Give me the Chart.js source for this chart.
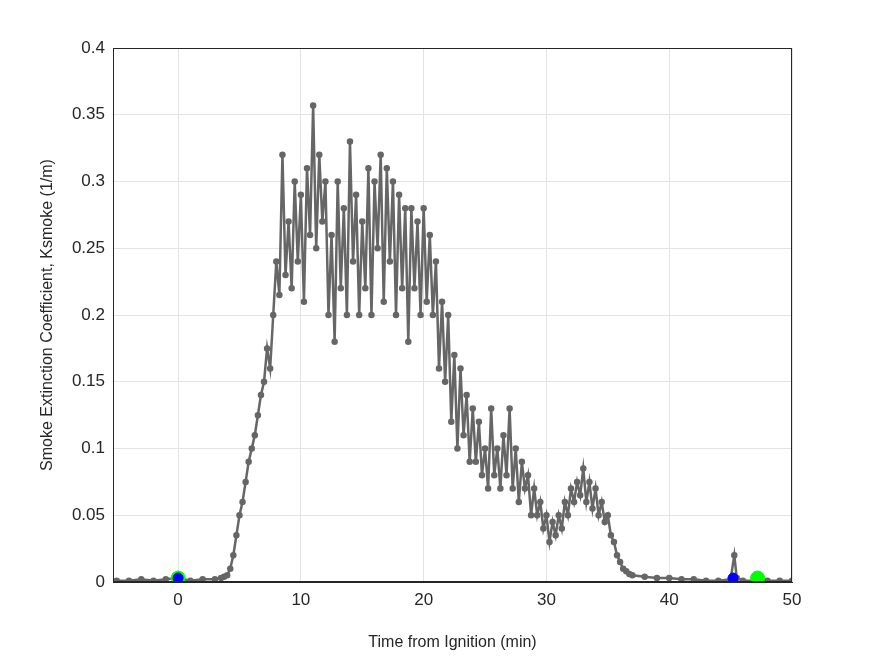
<!DOCTYPE html>
<html><head><meta charset="utf-8">
<script src="https://cdn.jsdelivr.net/npm/chart.js@4"></script>
<style>html,body{margin:0;background:#fff}#w{width:875px;height:656px}</style>
</head><body><div id="w"><canvas id="c"></canvas></div>
<script>
const preTimes=[-5,-4,-3,-2,-1,0,1,2,3,3.5,3.75];
const preVals=[0.001,0.001,0.002,0.001,0.002,0.003,0.001,0.002,0.002,0.003,0.004];
const mainStart=4, mainStep=0.25;
const mainVals=[.005,.01,.02,.035,.05,.06,.075,.09,.1,.11,.125,.14,.15,.175,.16,.2,.24,.215,.32,.23,.27,.22,.3,.24,.29,.21,.31,.26,.357,.25,.32,.27,.3,.2,.26,.18,.3,.22,.28,.2,.33,.24,.29,.2,.27,.22,.31,.2,.3,.25,.32,.21,.31,.24,.3,.2,.29,.22,.28,.18,.28,.22,.27,.2,.28,.21,.26,.2,.24,.16,.21,.15,.2,.12,.17,.1,.16,.11,.14,.09,.13,.09,.12,.08,.1,.07,.13,.08,.1,.07,.11,.08,.13,.07,.1,.06,.09,.07,.08,.05,.07,.05,.06,.04,.05,.03,.045,.035,.05,.04,.06,.05,.07,.06,.075,.065,.085,.06,.075,.055,.07,.05,.06,.045,.05,.035,.03,.02,.015,.01,.008,.006,.005];
const postTimes=[38,39,40,41,42,43,44,45,45.3,45.5,46,47,48,49,50];
const postVals=[.004,.003,.003,.002,.002,.001,.001,.002,.02,.003,.001,.001,.001,.001,.001];
const greenPts=[[0,0.003],[47.2,0.003]];
const bluePts=[[0,0.003],[45.2,0.003]];
const xTicks=[0,10,20,30,40,50];
const yTicks=[0,0.05,0.1,0.15,0.2,0.25,0.3,0.35,0.4];

const pts=[];
preTimes.forEach((t,i)=>pts.push({x:t,y:preVals[i]}));
mainVals.forEach((v,i)=>pts.push({x:mainStart+i*mainStep,y:v}));
postTimes.forEach((t,i)=>pts.push({x:t,y:postVals[i]}));
const toP=a=>a.map(p=>({x:p[0],y:p[1]}));
const F='"Liberation Sans", Arial, sans-serif';
new Chart(document.getElementById('c'),{
 type:'scatter',
 data:{datasets:[
  {data:toP(bluePts),backgroundColor:'#0000ff',borderColor:'#0000ff',pointRadius:5,order:0},
  {data:toP(greenPts),backgroundColor:'#00ff00',borderColor:'#00ff00',pointRadius:7,order:1},
  {data:pts,showLine:true,borderColor:'#666666',backgroundColor:'#666666',borderWidth:2.5,pointRadius:2,order:2}
 ]},
 options:{responsive:true,maintainAspectRatio:false,animation:false,
  layout:{padding:{top:48,right:83,left:34,bottom:0}},
  plugins:{legend:{display:false},tooltip:{enabled:false}},
  scales:{
   x:{type:'linear',min:-5.3,max:50,
    afterBuildTicks:s=>{s.ticks=xTicks.map(v=>({value:v}));},
    afterFit:s=>{s.height=74;},
    grid:{color:'#e3e3e3',drawTicks:false,tickLength:0},border:{color:'#262626'},
    ticks:{color:'#262626',font:{family:F,size:17},padding:8},
    title:{display:true,text:'Time from Ignition (min)',color:'#262626',font:{family:F,size:16},padding:{top:6}}},
   y:{min:0,max:0.4,
    afterBuildTicks:s=>{s.ticks=yTicks.map(v=>({value:v}));},
    afterFit:s=>{s.width=79;},
    grid:{color:'#e3e3e3',drawTicks:false},border:{color:'#262626'},
    ticks:{color:'#262626',font:{family:F,size:17},padding:8,callback:v=>String(+v.toFixed(2))},
    title:{display:true,text:'Smoke Extinction Coefficient, Ksmoke (1/m)',color:'#262626',font:{family:F,size:16},padding:{bottom:4}}}
  }},
 plugins:[{id:'box',afterDraw(c){const a=c.chartArea,x=c.ctx;x.save();x.strokeStyle='#262626';x.lineWidth=1;x.strokeRect(a.left+0.5,a.top+0.5,a.width-1,a.height-1);x.restore();}}]
});
</script></body></html>
